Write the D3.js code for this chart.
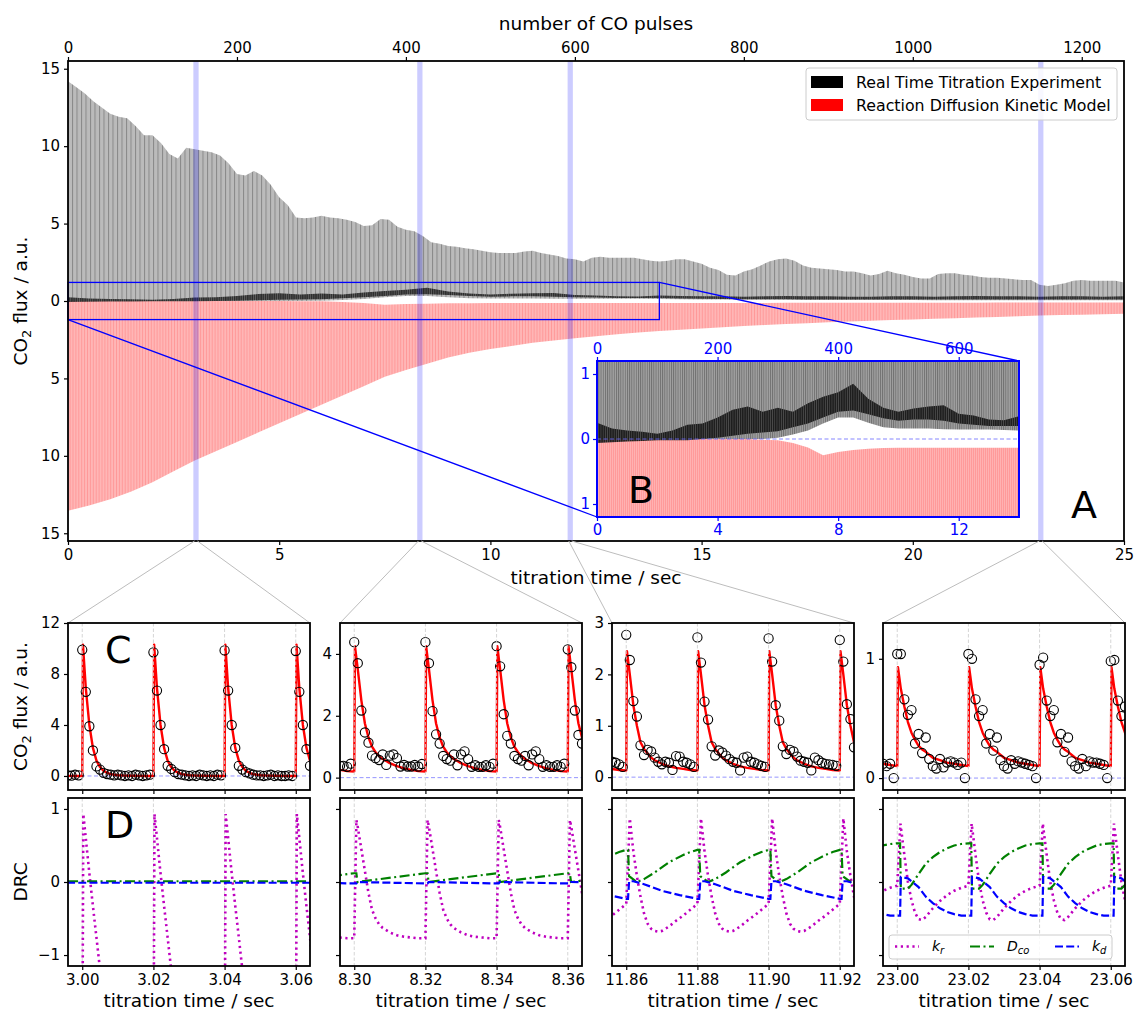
<!DOCTYPE html>
<html>
<head>
<meta charset="utf-8">
<script src="https://cdn.jsdelivr.net/npm/d3@7"></script>
<style>
  body { margin: 0; background: #fff; }
  svg { display: block; }
</style>
</head>
<body>
<script>
// ===================== data =====================
// Experimental peak flux of every 10th CO pulse (pulse 0 .. 1250)
const peakPulses = d3.range(0, 1251, 10);
const expPeak = [
  14.2, 13.8, 13.4, 12.9, 12.5, 12.1, 11.9, 11.8, 11.3, 10.7,
  10.7, 10.2, 9.5, 9.2, 9.9, 9.8, 9.7, 9.6, 9.4, 8.9,
  8.2, 8.1, 8.4, 8.1, 7.5, 6.7, 6.2, 5.4, 5.35, 5.4,
  5.5, 5.4, 5.35, 5.25, 5.1, 4.85, 4.9, 5.3, 5.25, 4.8,
  4.6, 4.5, 4.2, 3.8, 3.7, 3.55, 3.5, 3.4, 3.35, 3.25,
  3.15, 3.1, 3.1, 3.1, 3.2, 3.25, 3.1, 3.0, 2.9, 2.75,
  2.7, 2.55, 2.8, 2.85, 2.8, 2.8, 2.8, 2.8, 2.7, 2.6,
  2.55, 2.6, 2.7, 2.7, 2.55, 2.4, 2.15, 2.0, 1.7, 1.65,
  1.9, 2.05, 2.3, 2.55, 2.7, 2.75, 2.6, 2.3, 2.15, 2.1,
  2.05, 2.0, 1.9, 1.9, 1.8, 1.65, 1.75, 1.95, 1.8, 1.7,
  1.55, 1.45, 1.45, 1.75, 1.8, 1.8, 1.7, 1.65, 1.55, 1.5,
  1.5, 1.45, 1.4, 1.35, 1.35, 1.05, 0.97, 1.05, 1.15, 1.3,
  1.35, 1.3, 1.3, 1.3, 1.3, 1.2
];

// Baselines and dense low-flux band, every 25th pulse (pulse 0 .. 1250)
const bandPulses = d3.range(0, 1251, 25);
const expBase = [
  0, 0, 0, 0, 0, 0, 0, 0, 0, 0, 0, 0,
  0.02, 0.07, 0.13, 0.24, 0.33, 0.33, 0.25, 0.18, 0.16, 0.16, 0.16, 0.15, 0.145, 0.145, 0.145, 0.14, 0.13,
  0.12, 0.1, 0.1, 0.08, 0.08, 0.08, 0.07, 0.07, 0.06, 0.06, 0.06, 0.06, 0.05, 0.05, 0.05, 0.05, 0.05, 0.05, 0.05, 0.05, 0.05, 0.05
];
const expBandLo = [
  -0.06, -0.05, -0.04, -0.03, -0.02, -0.02, -0.02, 0.0, 0.02, 0.05, 0.08, 0.1, 0.12, 0.18, 0.24,
  0.33, 0.42, 0.44, 0.38, 0.32, 0.28, 0.3, 0.3, 0.28, 0.24, 0.22, 0.2, 0.2, 0.2,
  0.16, 0.14, 0.13, 0.12, 0.12, 0.12, 0.1, 0.1, 0.1, 0.1, 0.1, 0.1, 0.1, 0.1, 0.1, 0.1, 0.1, 0.1, 0.1, 0.1, 0.1, 0.1
];
const expBandHi = [
  0.25, 0.16, 0.13, 0.11, 0.08, 0.13, 0.22, 0.24, 0.33, 0.45, 0.5, 0.42, 0.48, 0.42, 0.55,
  0.65, 0.72, 0.85, 0.62, 0.48, 0.42, 0.47, 0.5, 0.52, 0.39, 0.36, 0.3, 0.29, 0.35,
  0.32, 0.3, 0.3, 0.28, 0.3, 0.32, 0.3, 0.3, 0.28, 0.28, 0.3, 0.3, 0.28, 0.3, 0.32, 0.3, 0.3, 0.28, 0.3, 0.3, 0.28, 0.3
];
// Kinetic model: peak and baseline flux, every 25th pulse
const modelPeak = [
  13.55, 13.2, 12.8, 12.3, 11.7, 11.0, 10.3, 9.7, 9.1, 8.5,
  7.9, 7.3, 6.7, 6.1, 5.5, 4.9, 4.45, 4.05, 3.65, 3.35,
  3.1, 2.9, 2.7, 2.55, 2.4, 2.27, 2.15, 2.04, 1.94, 1.85,
  1.77, 1.69, 1.62, 1.55, 1.49, 1.43, 1.38, 1.33, 1.28, 1.23,
  1.19, 1.15, 1.11, 1.07, 1.03, 0.99, 0.94, 0.91, 0.88, 0.85,
  0.82
];
const modelBase = [
  0, 0, 0, 0, 0, 0, 0, 0, 0, 0, 0,
  0.01, 0.02, 0.06, 0.13, 0.25, 0.2, 0.17, 0.15, 0.14, 0.135,
  0.135, 0.135, 0.135, 0.135, 0.135, 0.135, 0.135, 0.135,
  0.13, 0.13, 0.13, 0.125, 0.125, 0.12, 0.12, 0.12, 0.115, 0.115, 0.11,
  0.11, 0.11, 0.105, 0.105, 0.1, 0.1, 0.1, 0.1, 0.1, 0.1, 0.1
];

const seriesNames = ["Real Time Titration Experiment", "Reaction Diffusion Kinetic Model"];
const pulseTicks = [0, 200, 400, 600, 800, 1000, 1200];
const timeTicks = [0, 5, 10, 15, 20, 25];
const fluxTicks = [-15, -10, -5, 0, 5, 10, 15];
const insetPulseTicks = [0, 200, 400, 600];
const insetTimeTicks = [0, 4, 8, 12];
const insetFluxTicks = [-1, 0, 1];

// Close-up windows (seconds)
const windows = [[2.996, 3.064], [8.296, 8.364], [11.856, 11.924], [22.996, 23.064]];
const pulseTimes = [
  [2.98, 3.00, 3.02, 3.04, 3.06],
  [8.28, 8.30, 8.32, 8.34, 8.36],
  [11.84, 11.86, 11.88, 11.90, 11.92],
  [22.98, 23.00, 23.02, 23.04, 23.06]
];
const windowTicks = [
  [3.00, 3.02, 3.04, 3.06],
  [8.30, 8.32, 8.34, 8.36],
  [11.86, 11.88, 11.90, 11.92],
  [23.00, 23.02, 23.04, 23.06]
];
const fluxDomains = [[-1.1, 12], [-0.4, 5.0], [-0.25, 3.0], [-0.1, 1.3]];
const fluxTicksC = [[0, 4, 8, 12], [0, 2, 4], [0, 1, 2, 3], [0, 1]];
const drcTicks = [-1, 0, 1];

// Measured flux, one sample per ms from the window start
const expC1 = [
  0.05, 0.02, 0.1, 0.05,
  9.9, 6.6, 3.9, 2.0, 0.75, 0.5, 0.25, 0.15, 0.1, 0.05, 0.1, 0.05, 0.0, 0.05, 0.0, 0.1, 0.05, 0.0, 0.05, 0.1,
  9.7, 6.7, 4.0, 2.1, 0.8, 0.55, 0.3, 0.15, 0.1, 0.05, 0.0, 0.05, 0.0, 0.1, 0.05, 0.0, 0.05, 0.0, 0.1, 0.05,
  9.85, 6.7, 4.0, 2.2, 0.8, 0.5, 0.3, 0.2, 0.1, 0.05, 0.05, 0.0, 0.05, 0.1, 0.0, 0.05, 0.0, 0.0, 0.05, 0.0,
  9.8, 6.6, 4.0, 2.1, 0.8
];
const expC2 = [
  0.38, 0.38, 0.35, 0.45,
  4.38, 3.7, 2.17, 1.46, 1.13, 0.71, 0.63, 0.57, 0.75, 0.41, 0.71, 0.75, 0.63, 0.36, 0.41, 0.36, 0.36, 0.41, 0.36, 0.44,
  4.38, 3.7, 2.15, 1.4, 1.1, 0.7, 0.6, 0.55, 0.75, 0.4, 0.75, 0.85, 0.6, 0.35, 0.4, 0.35, 0.35, 0.4, 0.35, 0.45,
  4.25, 3.6, 2.05, 1.35, 1.1, 0.7, 0.6, 0.55, 0.7, 0.4, 0.75, 0.85, 0.6, 0.35, 0.4, 0.35, 0.35, 0.4, 0.35, 0.45,
  4.15, 3.57, 2.17, 1.38, 1.1
];
const expC3 = [
  0.3, 0.28, 0.25, 0.2,
  2.77, 2.28, 1.48, 1.18, 0.62, 0.43, 0.53, 0.5, 0.38, 0.3, 0.25, 0.3, 0.28, 0.14, 0.41, 0.4, 0.3, 0.28, 0.25, 0.2,
  2.72, 2.23, 1.47, 1.12, 0.6, 0.42, 0.52, 0.48, 0.42, 0.35, 0.3, 0.28, 0.13, 0.38, 0.4, 0.3, 0.28, 0.25, 0.22, 0.2,
  2.7, 2.25, 1.4, 1.1, 0.6, 0.45, 0.53, 0.5, 0.4, 0.32, 0.3, 0.28, 0.13, 0.38, 0.33, 0.28, 0.26, 0.25, 0.24, 0.22,
  2.67, 2.25, 1.42, 1.13, 0.58
];
const expC4 = [
  0.12, 0.1, 0.12, 0.0,
  1.04, 1.04, 0.66, 0.53, 0.57, 0.29, 0.37, 0.21, 0.34, 0.16, 0.1, 0.08, 0.16, 0.09, 0.13, 0.14, 0.13, 0.11, 0.13, 0.0,
  1.04, 1.0, 0.66, 0.52, 0.57, 0.29, 0.37, 0.23, 0.34, 0.15, 0.1, 0.08, 0.15, 0.12, 0.14, 0.13, 0.12, 0.11, 0.1, 0.0,
  0.95, 1.01, 0.65, 0.52, 0.57, 0.3, 0.37, 0.22, 0.34, 0.14, 0.1, 0.08, 0.16, 0.1, 0.14, 0.13, 0.13, 0.12, 0.11, 0.0,
  0.98, 0.99, 0.65, 0.52, 0.6
];
const expC = [expC1, expC2, expC3, expC4];

// Per-pulse response profiles: offsets after the pulse (ms) and values
const modelOff = [0, 0.2, 1, 2, 3, 4, 5, 6, 7, 8, 10, 12, 14, 16, 18, 20];
const modelC = [
  [0.0, 10.3, 6.9, 4.0, 2.2, 1.2, 0.7, 0.4, 0.25, 0.15, 0.06, 0.03, 0.02, 0.01, 0.0, 0.0],
  [0.2, 4.25, 3.5, 2.5, 1.75, 1.3, 1.0, 0.82, 0.7, 0.6, 0.47, 0.37, 0.3, 0.25, 0.21, 0.2],
  [0.13, 2.45, 2.0, 1.4, 1.0, 0.68, 0.55, 0.46, 0.38, 0.33, 0.26, 0.21, 0.18, 0.16, 0.14, 0.13],
  [0.1, 0.93, 0.75, 0.6, 0.47, 0.38, 0.32, 0.27, 0.24, 0.22, 0.17, 0.15, 0.13, 0.12, 0.11, 0.1]
];

// Degree of rate control per pulse: k_r, D_co, k_d
const drcKr = [
  { off: [0, 0.3, 1, 2, 3, 4, 5, 6, 20], val: [-3, 0.93, 0.6, 0.12, -0.33, -0.76, -1.2, -1.65, -3] },
  { off: [0, 0.6, 1, 2, 3, 4, 5, 6, 7, 8, 10, 12, 14, 16, 18, 20], val: [-0.77, 0.85, 0.75, 0.45, 0.15, -0.15, -0.38, -0.5, -0.58, -0.63, -0.69, -0.73, -0.75, -0.76, -0.77, -0.77] },
  { off: [0, 1, 2, 3, 4, 5, 6, 7, 8, 9, 10, 12, 14, 16, 18, 20], val: [-0.3, 0.87, 0.42, 0.08, -0.2, -0.43, -0.57, -0.64, -0.67, -0.68, -0.67, -0.61, -0.53, -0.46, -0.38, -0.3] },
  { off: [0, 0.9, 2, 3, 4, 5, 6, 7, 8, 10, 12, 14, 16, 18, 20], val: [-0.05, 0.8, 0.37, 0.0, -0.25, -0.42, -0.51, -0.52, -0.48, -0.36, -0.26, -0.18, -0.12, -0.08, -0.05] }
];
const drcDco = [
  { off: [0, 20], val: [0.01, 0.01] },
  { off: [0, 0.6, 0.9, 20], val: [0.12, 0.12, 0.0, 0.12] },
  { off: [0, 0.5, 0.8, 3, 5, 8, 10, 12, 14, 16, 18, 20], val: [0.44, 0.44, 0.08, 0.0, 0.04, 0.13, 0.2, 0.27, 0.32, 0.37, 0.41, 0.44] },
  { off: [0, 0.8, 1, 3, 4, 6, 8, 10, 12, 14, 16, 18, 20], val: [0.53, 0.53, -0.09, -0.09, -0.04, 0.11, 0.25, 0.34, 0.41, 0.46, 0.5, 0.52, 0.53] }
];
const drcKd = [
  { off: [0, 20], val: [-0.01, -0.01] },
  { off: [0, 0.6, 0.9, 20], val: [-0.02, -0.02, 0.0, -0.02] },
  { off: [0, 0.5, 0.8, 2, 5, 10, 15, 20], val: [-0.23, -0.23, 0.01, 0.01, -0.03, -0.12, -0.18, -0.23] },
  { off: [0, 0.8, 1, 3, 6, 8, 10, 12, 14, 16, 18, 20], val: [-0.46, -0.46, 0.07, 0.05, -0.07, -0.2, -0.29, -0.36, -0.41, -0.44, -0.46, -0.46] }
];

// ===================== drawing =====================
const FONT = "'DejaVu Sans', 'Liberation Sans', sans-serif";
const TICK = 15, LABEL = 18.5;
const svg = d3.select("body").append("svg")
  .attr("width", 1136).attr("height", 1012)
  .style("font-family", FONT);
const defs = svg.append("defs");

function stripePattern(id, period, bg, fg, lw) {
  const p = defs.append("pattern").attr("id", id)
    .attr("patternUnits", "userSpaceOnUse").attr("width", period).attr("height", 10);
  p.append("rect").attr("width", period).attr("height", 10).attr("fill", bg);
  p.append("rect").attr("width", lw).attr("height", 10).attr("fill", fg);
}
stripePattern("greyMain", 4.5, "#bbbbbb", "#888888", 1);
stripePattern("redMain", 2.9, "#ffb6b6", "#ff8e8e", 0.7);
stripePattern("greyInset", 2.2, "#a2a2a2", "#6e6e6e", 0.9);
stripePattern("redInset", 2.0, "#ff9a9a", "#ffbcbc", 0.7);
stripePattern("darkBand", 2.2, "#111111", "#555555", 0.6);

function clip(id, x, y, w, h) {
  defs.append("clipPath").attr("id", id).append("rect")
    .attr("x", x).attr("y", y).attr("width", w).attr("height", h);
  return `url(#${id})`;
}

function styleAxis(g, color, size) {
  g.attr("font-family", FONT).attr("font-size", size);
  g.select(".domain").remove();
  g.selectAll(".tick line").attr("stroke", color).attr("stroke-width", 1.2);
  g.selectAll(".tick text").attr("fill", color);
}

function fluxLabel(g, x, y, size) {
  const t = g.append("text").attr("transform", `translate(${x},${y}) rotate(-90)`)
    .attr("text-anchor", "middle").attr("font-size", size).attr("fill", "#000");
  t.append("tspan").text("CO");
  t.append("tspan").attr("dy", 4).attr("font-size", size * 0.7).text("2");
  t.append("tspan").attr("dy", -4).text(" flux / a.u.");
}

const intFmt = d3.format("d");

// ---------- panel A ----------
const M = { l: 68, r: 1124, t: 61, b: 541 };
const xTime = d3.scaleLinear().domain([0, 25]).range([M.l, M.r]);
const xPulse = d3.scaleLinear().domain([0, 1250]).range([M.l, M.r]);
const yFlux = d3.scaleLinear().domain([-15.5, 15.5]).range([M.b, M.t]);

function envelope(xs, ys, topVals, topPulses, botVals, botPulses, sign) {
  const up = topPulses.map((p, i) => [xs(p), ys(sign * topVals[i])]);
  const lo = botPulses.map((p, i) => [xs(p), ys(sign * botVals[i])]).reverse();
  return d3.line()(up.concat(lo)) + "Z";
}

function fluxLayers(g, xs, ys, greyPat, redPat, bandOpacity) {
  g.append("path")
    .attr("d", envelope(xs, ys, modelPeak, bandPulses, modelBase, bandPulses, -1))
    .attr("fill", `url(#${redPat})`);
  g.append("path")
    .attr("d", envelope(xs, ys, expPeak, peakPulses, expBase, bandPulses, 1))
    .attr("fill", `url(#${greyPat})`);
  g.append("path")
    .attr("d", d3.area()
      .x((d, i) => xs(bandPulses[i]))
      .y0(d => ys(d[0])).y1(d => ys(d[1]))(d3.zip(expBandLo, expBandHi)))
    .attr("fill", "url(#darkBand)").attr("fill-opacity", bandOpacity);
}

const gA = svg.append("g");
const plotA = gA.append("g").attr("clip-path", clip("clipA", M.l, M.t, M.r - M.l, M.b - M.t));
fluxLayers(plotA, xPulse, yFlux, "greyMain", "redMain", 0.8);

// highlighted close-up windows
windows.forEach(w => {
  plotA.append("rect")
    .attr("x", xTime(w[0]) - 1.2).attr("y", M.t)
    .attr("width", xTime(w[1]) - xTime(w[0]) + 2.4).attr("height", M.b - M.t)
    .attr("fill", "#0000ff").attr("fill-opacity", 0.2);
});

// zoom box for inset B
const zoomT = [0, 14], zoomF = [-1.2, 1.2];
const I = { l: 597, r: 1019, t: 361, b: 517 };
gA.append("rect")
  .attr("x", xTime(zoomT[0])).attr("y", yFlux(zoomF[1]))
  .attr("width", xTime(zoomT[1]) - xTime(zoomT[0])).attr("height", yFlux(zoomF[0]) - yFlux(zoomF[1]))
  .attr("fill", "none").attr("stroke", "#0000ff").attr("stroke-width", 1.3);
gA.append("line")
  .attr("x1", xTime(zoomT[1])).attr("y1", yFlux(zoomF[1])).attr("x2", I.r).attr("y2", I.t)
  .attr("stroke", "#0000ff").attr("stroke-width", 1.3);
gA.append("line")
  .attr("x1", xTime(zoomT[0])).attr("y1", yFlux(zoomF[0])).attr("x2", I.l).attr("y2", I.b)
  .attr("stroke", "#0000ff").attr("stroke-width", 1.3);

// main axes
gA.append("g").attr("transform", `translate(0,${M.b})`)
  .call(d3.axisBottom(xTime).tickValues(timeTicks).tickSize(4).tickPadding(4).tickFormat(intFmt))
  .call(g => styleAxis(g, "#000", TICK));
gA.append("g").attr("transform", `translate(0,${M.t})`)
  .call(d3.axisTop(xPulse).tickValues(pulseTicks).tickSize(4).tickPadding(4).tickFormat(intFmt))
  .call(g => styleAxis(g, "#000", TICK));
gA.append("g").attr("transform", `translate(${M.l},0)`)
  .call(d3.axisLeft(yFlux).tickValues(fluxTicks).tickSize(4).tickPadding(4).tickFormat(d => intFmt(Math.abs(d))))
  .call(g => styleAxis(g, "#000", TICK));
gA.append("rect").attr("x", M.l).attr("y", M.t).attr("width", M.r - M.l).attr("height", M.b - M.t)
  .attr("fill", "none").attr("stroke", "#000").attr("stroke-width", 1.8);

gA.append("text").attr("x", (M.l + M.r) / 2).attr("y", 30).attr("text-anchor", "middle")
  .attr("font-size", LABEL).text("number of CO pulses");
gA.append("text").attr("x", (M.l + M.r) / 2).attr("y", 584).attr("text-anchor", "middle")
  .attr("font-size", LABEL).text("titration time / sec");
fluxLabel(gA, 27, (M.t + M.b) / 2, LABEL);

// legend
const leg = gA.append("g");
leg.append("rect").attr("x", 806).attr("y", 68).attr("width", 311).attr("height", 52).attr("rx", 3)
  .attr("fill", "#fff").attr("fill-opacity", 0.85).attr("stroke", "#cccccc");
["#000000", "#ff0000"].forEach((c, i) => {
  leg.append("rect").attr("x", 811).attr("y", 76 + i * 23).attr("width", 32).attr("height", 12).attr("fill", c);
  leg.append("text").attr("x", 856).attr("y", 88 + i * 23).attr("font-size", 15.8).text(seriesNames[i]);
});

// ---------- inset B ----------
const xTimeI = d3.scaleLinear().domain(zoomT).range([I.l, I.r]);
const xPulseI = d3.scaleLinear().domain([0, 700]).range([I.l, I.r]);
const yFluxI = d3.scaleLinear().domain(zoomF).range([I.b, I.t]);
const gB = svg.append("g");
gB.append("rect").attr("x", I.l).attr("y", I.t).attr("width", I.r - I.l).attr("height", I.b - I.t).attr("fill", "#fff");
const plotB = gB.append("g").attr("clip-path", clip("clipB", I.l, I.t, I.r - I.l, I.b - I.t));
fluxLayers(plotB, xPulseI, yFluxI, "greyInset", "redInset", 0.9);
plotB.append("line").attr("x1", I.l).attr("x2", I.r).attr("y1", yFluxI(0)).attr("y2", yFluxI(0))
  .attr("stroke", "#6666ff").attr("stroke-opacity", 0.8).attr("stroke-width", 1).attr("stroke-dasharray", "4,2.5");
gB.append("g").attr("transform", `translate(0,${I.b})`)
  .call(d3.axisBottom(xTimeI).tickValues(insetTimeTicks).tickSize(4).tickPadding(3).tickFormat(intFmt))
  .call(g => styleAxis(g, "#0000ff", TICK));
gB.append("g").attr("transform", `translate(0,${I.t})`)
  .call(d3.axisTop(xPulseI).tickValues(insetPulseTicks).tickSize(4).tickPadding(3).tickFormat(intFmt))
  .call(g => styleAxis(g, "#0000ff", TICK));
gB.append("g").attr("transform", `translate(${I.l},0)`)
  .call(d3.axisLeft(yFluxI).tickValues(insetFluxTicks).tickSize(4).tickPadding(3).tickFormat(d => intFmt(Math.abs(d))))
  .call(g => styleAxis(g, "#0000ff", TICK));
gB.append("rect").attr("x", I.l).attr("y", I.t).attr("width", I.r - I.l).attr("height", I.b - I.t)
  .attr("fill", "none").attr("stroke", "#0000ff").attr("stroke-width", 2);

svg.append("text").attr("x", 628).attr("y", 503).attr("font-size", 38).text("B");
svg.append("text").attr("x", 1071).attr("y", 518).attr("font-size", 38).text("A");

// ---------- panels C and D ----------
const panelLeft = [68, 340, 612, 883];
const PW = 242;
const C = { t: 623, b: 790 };
const D = { t: 798, b: 966 };
const yDrc = d3.scaleLinear().domain([-1.15, 1.15]).range([D.b, D.t]);

function pulseTrain(pulses, off, val) {
  const pts = [];
  pulses.forEach(tp => off.forEach((o, i) => pts.push([tp + o / 1000, val[i]])));
  return pts;
}

const drcStyles = [
  { color: "#bf00bf", dash: "2.2,3.6", width: 2.6 },
  { color: "#008000", dash: "10,3.5,2,3.5", width: 2.2 },
  { color: "#0000ff", dash: "8,3.2", width: 2.2 }
];

windows.forEach((win, i) => {
  const x0 = panelLeft[i];
  const xs = d3.scaleLinear().domain(win).range([x0, x0 + PW]);
  const yC = d3.scaleLinear().domain(fluxDomains[i]).range([C.b, C.t]);
  const g = svg.append("g");

  // connectors from panel A
  [[win[0], x0], [win[1], x0 + PW]].forEach(([t, px]) => {
    g.append("line").attr("x1", xTime(t)).attr("y1", M.b).attr("x2", px).attr("y2", C.t)
      .attr("stroke", "#bdbdbd").attr("stroke-width", 1);
  });

  // ----- C: flux -----
  const pc = g.append("g").attr("clip-path", clip(`clipC${i}`, x0, C.t, PW, C.b - C.t));
  windowTicks[i].forEach(t => {
    [[C.t, C.b], [D.t, D.b]].forEach(([a, b]) => {
      g.append("line").attr("x1", xs(t)).attr("x2", xs(t)).attr("y1", a).attr("y2", b)
        .attr("stroke", "#d0d0d0").attr("stroke-width", 0.9).attr("stroke-dasharray", "3.5,2");
    });
  });
  pc.append("line").attr("x1", x0).attr("x2", x0 + PW).attr("y1", yC(0)).attr("y2", yC(0))
    .attr("stroke", "#7b7bff").attr("stroke-opacity", 0.8).attr("stroke-width", 1).attr("stroke-dasharray", "4,2.5");
  pc.append("path")
    .attr("d", d3.line().x(d => xs(d[0])).y(d => yC(d[1]))(pulseTrain(pulseTimes[i], modelOff, modelC[i])))
    .attr("fill", "none").attr("stroke", "#ff0000").attr("stroke-width", 2.4).attr("stroke-linejoin", "round");
  pc.selectAll("circle.exp").data(expC[i]).join("circle")
    .attr("cx", (d, k) => xs(win[0] + k * 0.001)).attr("cy", d => yC(d)).attr("r", 4.6)
    .attr("fill", "none").attr("stroke", "#000").attr("stroke-width", 1.1);

  g.append("g").attr("transform", `translate(${x0},0)`)
    .call(d3.axisLeft(yC).tickValues(fluxTicksC[i]).tickSize(4).tickPadding(4).tickFormat(intFmt))
    .call(a => styleAxis(a, "#000", TICK));
  g.append("g").attr("transform", `translate(0,${C.b})`)
    .call(d3.axisBottom(xs).tickValues(windowTicks[i]).tickSize(4).tickFormat(""))
    .call(a => styleAxis(a, "#000", TICK));
  g.append("rect").attr("x", x0).attr("y", C.t).attr("width", PW).attr("height", C.b - C.t)
    .attr("fill", "none").attr("stroke", "#000").attr("stroke-width", 1.8);

  // ----- D: degree of rate control -----
  const pd = g.append("g").attr("clip-path", clip(`clipD${i}`, x0, D.t, PW, D.b - D.t));
  [drcKr[i], drcDco[i], drcKd[i]].forEach((s, j) => {
    const st = drcStyles[j];
    pd.append("path")
      .attr("d", d3.line().x(d => xs(d[0])).y(d => yDrc(d[1]))(pulseTrain(pulseTimes[i], s.off, s.val)))
      .attr("fill", "none").attr("stroke", st.color).attr("stroke-width", st.width)
      .attr("stroke-dasharray", st.dash);
  });
  g.append("g").attr("transform", `translate(${x0},0)`)
    .call(d3.axisLeft(yDrc).tickValues(drcTicks).tickSize(4).tickPadding(4)
      .tickFormat(i === 0 ? (d => d < 0 ? "\u2212" + Math.abs(d) : intFmt(d)) : ""))
    .call(a => styleAxis(a, "#000", TICK));
  g.append("g").attr("transform", `translate(0,${D.b})`)
    .call(d3.axisBottom(xs).tickValues(windowTicks[i]).tickSize(4).tickPadding(4).tickFormat(d3.format(".2f")))
    .call(a => styleAxis(a, "#000", TICK));
  g.append("rect").attr("x", x0).attr("y", D.t).attr("width", PW).attr("height", D.b - D.t)
    .attr("fill", "none").attr("stroke", "#000").attr("stroke-width", 1.8);
  g.append("text").attr("x", x0 + PW / 2).attr("y", 1007).attr("text-anchor", "middle")
    .attr("font-size", LABEL).text("titration time / sec");
});

svg.append("text").attr("x", 105).attr("y", 663).attr("font-size", 38).text("C");
svg.append("text").attr("x", 105).attr("y", 838).attr("font-size", 38).text("D");
fluxLabel(svg, 27, (C.t + C.b) / 2, LABEL);
svg.append("text").attr("transform", `translate(27,${(D.t + D.b) / 2}) rotate(-90)`)
  .attr("text-anchor", "middle").attr("font-size", LABEL).text("DRC");

// DRC legend
const drcNames = [["k", "r"], ["D", "co"], ["k", "d"]];
const lg = svg.append("g");
lg.append("rect").attr("x", 889).attr("y", 935).attr("width", 223).attr("height", 24).attr("rx", 3)
  .attr("fill", "#fff").attr("fill-opacity", 0.85).attr("stroke", "#cccccc");
const legX = [895, 970, 1055];
drcNames.forEach((nm, j) => {
  const st = drcStyles[j];
  lg.append("line").attr("x1", legX[j]).attr("x2", legX[j] + 24).attr("y1", 946.5).attr("y2", 946.5)
    .attr("stroke", st.color).attr("stroke-width", st.width).attr("stroke-dasharray", st.dash);
  const t = lg.append("text").attr("x", legX[j] + 37).attr("y", 951).attr("font-size", 14).attr("font-style", "italic");
  t.append("tspan").text(nm[0]);
  t.append("tspan").attr("dy", 3).attr("font-size", 10).text(nm[1]);
});
</script>
</body>
</html>
